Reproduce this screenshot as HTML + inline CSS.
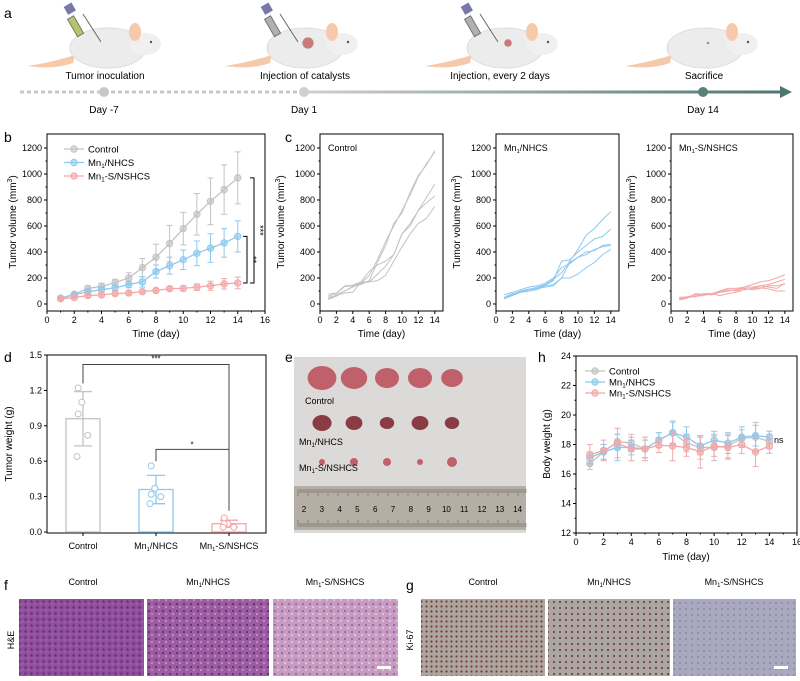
<!DOCTYPE html>
<html><head><meta charset="utf-8"><style>
body{margin:0;background:#fff;width:800px;height:676px;overflow:hidden;font-family:"Liberation Sans",sans-serif}
svg text{font-family:"Liberation Sans",sans-serif}
</style></head><body>
<svg id="fig" width="800" height="676" viewBox="0 0 800 676" xmlns="http://www.w3.org/2000/svg">
<defs>
<linearGradient id="tl" x1="0" x2="1"><stop offset="0" stop-color="#d0d0d0"/><stop offset="1" stop-color="#4d7770"/></linearGradient>
<pattern id="he1" width="6" height="6" patternUnits="userSpaceOnUse"><rect width="6" height="6" fill="#8f4f9d"/><circle cx="1.5" cy="1.5" r="1.1" fill="#5a2c78"/><circle cx="4.5" cy="4" r="0.9" fill="#b06aa8"/></pattern>
<pattern id="he2" width="7" height="7" patternUnits="userSpaceOnUse"><rect width="7" height="7" fill="#9c5ca2"/><circle cx="2" cy="2" r="1.1" fill="#5e3080"/><circle cx="5" cy="5" r="1.2" fill="#c08ab8"/></pattern>
<pattern id="he3" width="7" height="7" patternUnits="userSpaceOnUse"><rect width="7" height="7" fill="#c79ac2"/><circle cx="2" cy="2" r="0.9" fill="#7a4a92"/><circle cx="5" cy="5" r="1.2" fill="#ddc2d6"/></pattern>
<pattern id="ki1" width="5" height="5" patternUnits="userSpaceOnUse"><rect width="5" height="5" fill="#aba6a2"/><circle cx="1.5" cy="1.5" r="1.1" fill="#7a3a2a"/></pattern>
<pattern id="ki2" width="6" height="6" patternUnits="userSpaceOnUse"><rect width="6" height="6" fill="#aaa6a4"/><circle cx="2" cy="2" r="1.1" fill="#7e4434"/></pattern>
<pattern id="ki3" width="6" height="6" patternUnits="userSpaceOnUse"><rect width="6" height="6" fill="#a8a9c0"/><circle cx="2" cy="3" r="0.8" fill="#8c7080"/></pattern>
</defs>

<g>
<text x="4" y="18" font-size="14">a</text>
<g id="mice"></g>
<text x="105" y="79" font-size="10" text-anchor="middle">Tumor inoculation</text>
<text x="305" y="79" font-size="10" text-anchor="middle">Injection of catalysts</text>
<text x="500" y="79" font-size="10" text-anchor="middle">Injection, every 2 days</text>
<text x="704" y="79" font-size="10" text-anchor="middle">Sacrifice</text>
<line x1="20" y1="92" x2="303" y2="92" stroke="#c8c8c8" stroke-width="3" stroke-dasharray="4,3"/>
<rect x="303" y="90.5" width="480" height="3" fill="url(#tl)"/>
<polygon points="780,86 792,92 780,98" fill="#4d7770"/>
<circle cx="104" cy="92" r="5" fill="#c8c8c8"/>
<circle cx="304" cy="92" r="5" fill="#cfcfcf"/>
<circle cx="703" cy="92" r="5" fill="#5a807a"/>
<text x="104" y="113" font-size="10" text-anchor="middle">Day -7</text>
<text x="304" y="113" font-size="10" text-anchor="middle">Day 1</text>
<text x="703" y="113" font-size="10" text-anchor="middle">Day 14</text>
</g>

<text x="4" y="142" font-size="14">b</text>
<text x="285" y="142" font-size="14">c</text>
<text x="4" y="362" font-size="14">d</text>
<text x="285" y="362" font-size="14">e</text>
<text x="538" y="362" font-size="14">h</text>
<text x="4" y="590" font-size="14">f</text>
<text x="406" y="590" font-size="14">g</text>

<g id="pb"></g>
<g id="pc"></g>
<g id="pd"></g>
<g id="ph"></g>

<g>
<rect x="294" y="357" width="232" height="176" fill="#dcdad8"/>
<rect x="294" y="486" width="232" height="44" fill="#b5aea4"/>
<g id="tumors"></g>
<text x="305" y="404" font-size="9">Control</text>
<text x="299" y="445" font-size="9">Mn<tspan font-size="6" dy="2">1</tspan><tspan dy="-2">/NHCS</tspan></text>
<text x="299" y="471" font-size="9">Mn<tspan font-size="6" dy="2">1</tspan><tspan dy="-2">-S/NSHCS</tspan></text>
<g id="ruler"></g>
</g>

<g>
<text x="83" y="585" font-size="9" text-anchor="middle">Control</text>
<text x="208" y="585" font-size="9" text-anchor="middle">Mn<tspan font-size="6" dy="2">1</tspan><tspan dy="-2">/NHCS</tspan></text>
<text x="335" y="585" font-size="9" text-anchor="middle">Mn<tspan font-size="6" dy="2">1</tspan><tspan dy="-2">-S/NSHCS</tspan></text>
<text transform="translate(14,640) rotate(-90)" font-size="9" text-anchor="middle">H&amp;E</text>
<rect x="19" y="599" width="125" height="77" fill="url(#he1)"/>
<rect x="147" y="599" width="122" height="77" fill="url(#he2)"/>
<rect x="273" y="599" width="125" height="77" fill="url(#he3)"/>
<rect x="377" y="666" width="14" height="3" fill="#fff"/>
</g>
<g>
<text x="483" y="585" font-size="9" text-anchor="middle">Control</text>
<text x="609" y="585" font-size="9" text-anchor="middle">Mn<tspan font-size="6" dy="2">1</tspan><tspan dy="-2">/NHCS</tspan></text>
<text x="734" y="585" font-size="9" text-anchor="middle">Mn<tspan font-size="6" dy="2">1</tspan><tspan dy="-2">-S/NSHCS</tspan></text>
<text transform="translate(413,640) rotate(-90)" font-size="9" text-anchor="middle">Ki-67</text>
<rect x="421" y="599" width="124" height="77" fill="url(#ki1)"/>
<rect x="548" y="599" width="122" height="77" fill="url(#ki2)"/>
<rect x="673" y="599" width="123" height="77" fill="url(#ki3)"/>
<rect x="774" y="666" width="14" height="3" fill="#fff"/>
</g>
</svg>
<script>
const days = [1,2,3,4,5,6,7,8,9,10,11,12,13,14];
const volControl = [45,75,120,135,165,200,280,360,465,580,690,790,880,970];
const volControlErr = [5,10,20,25,25,40,70,100,140,125,160,180,190,200];
const volNHCS = [45,70,95,110,125,150,170,250,295,340,390,430,470,520];
const volNHCSErr = [5,10,15,20,20,25,40,50,65,75,95,110,110,120];
const volNSHCS = [40,50,65,70,80,85,95,105,118,120,130,140,155,162];
const volNSHCSErr = [10,10,15,15,15,15,15,15,15,20,25,35,40,45];
const indControl = [
 [35,60,100,135,150,180,320,450,620,700,860,990,1070,1180],
 [40,70,100,130,160,220,340,480,600,720,840,980,1080,1170],
 [75,85,140,145,170,250,300,330,380,540,600,720,820,920],
 [60,80,135,140,160,170,230,290,380,540,620,720,780,830],
 [50,65,85,90,170,170,180,220,330,440,540,620,660,750]];
const indNHCS = [
 [40,70,95,110,130,150,190,240,330,420,530,580,650,710],
 [45,75,100,115,120,145,180,330,340,400,450,500,520,575],
 [70,90,110,130,140,160,200,280,310,360,400,410,450,460],
 [50,80,90,100,110,140,150,200,320,360,380,420,440,450],
 [40,65,90,100,120,130,140,200,200,230,280,320,380,420]];
const indNSHCS = [
 [40,50,60,80,80,90,100,110,130,150,170,180,200,225],
 [50,55,70,75,80,100,120,120,130,130,140,150,170,190],
 [30,45,80,75,70,90,100,110,120,110,120,140,140,155],
 [45,50,60,65,80,65,80,90,110,120,125,115,100,100],
 [50,55,55,80,70,95,110,100,110,120,140,130,120,160]];
const groups = ["Control","Mn1/NHCS","Mn1-S/NSHCS"];
const weightMean = [0.96,0.36,0.07];
const weightErr = [0.23,0.12,0.03];
const weightPts = [[1.22,1.10,1.00,0.82,0.64],[0.56,0.37,0.32,0.30,0.24],[0.12,0.07,0.07,0.04,0.04]];
const bwControl = [16.7,17.5,18.2,18.1,17.7,18.3,18.8,18.1,17.8,17.8,17.9,18.4,18.5,18.2];
const bwNHCS = [17.1,17.5,17.8,17.8,17.7,18.3,18.8,18.5,17.9,18.3,18.1,18.5,18.6,18.5];
const bwNSHCS = [17.3,17.6,18.1,17.7,17.7,17.95,17.9,17.8,17.5,17.9,17.8,18.0,17.5,17.9];
const bwControlErr = [0.4,0.5,0.5,0.6,0.6,0.5,0.8,0.6,0.8,0.9,0.8,0.6,1.0,0.5];
const bwNHCSErr = [0.4,0.5,0.9,0.5,0.6,0.5,0.7,0.7,0.6,0.6,0.7,0.7,0.7,0.4];
const bwNSHCSErr = [0.7,0.7,1.0,0.8,0.8,0.5,1.0,0.6,1.1,0.7,0.8,0.6,1.0,0.5];
const volTicks = [0,200,400,600,800,1000,1200];
const dayTicksB = [0,2,4,6,8,10,12,14,16];
const dayTicksC = [0,2,4,6,8,10,12,14];
const wTicks = [0,0.3,0.6,0.9,1.2,1.5];
const bwTicks = [12,14,16,18,20,22,24];

const NS="http://www.w3.org/2000/svg";
const GRAY="#c3c3c3", BLUE="#8ec9ee", PINK="#f4a7a7";
function mk(parent,tag,attrs,text){const e=document.createElementNS(NS,tag);for(const k in attrs)e.setAttribute(k,attrs[k]);if(text!==undefined)e.textContent=text;parent.appendChild(e);return e;}
function scale(d0,d1,r0,r1){return v=>r0+(v-d0)/(d1-d0)*(r1-r0);}
function subLabel(parent,x,y,label,size,anchor){
  const t=mk(parent,'text',{x:x,y:y,'font-size':size,'text-anchor':anchor||'start'});
  const m=label.match(/^Mn1(.*)$/);
  if(m){t.appendChild(document.createTextNode('Mn'));mk(t,'tspan',{'font-size':size*0.65,dy:2},'1');mk(t,'tspan',{dy:-2},m[1]);}
  else t.textContent=label;
  return t;
}
function frame(g,x0,y0,x1,y1,xs,ys,xt,yt,xtf,ytf,minorX,minorY){
  mk(g,'rect',{x:x0,y:y0,width:x1-x0,height:y1-y0,fill:'none',stroke:'#000','stroke-width':1});
  xt.forEach(v=>{const x=xs(v);mk(g,'line',{x1:x,y1:y1,x2:x,y2:y1+3,stroke:'#000'});mk(g,'text',{x:x,y:y1+12,'font-size':9,'text-anchor':'middle'},xtf(v));});
  yt.forEach(v=>{const y=ys(v);mk(g,'line',{x1:x0,y1:y,x2:x0-3,y2:y,stroke:'#000'});mk(g,'text',{x:x0-5,y:y+3,'font-size':9,'text-anchor':'end'},ytf(v));});
  if(minorX)for(let i=0;i<xt.length-1;i++){const x=xs((xt[i]+xt[i+1])/2);mk(g,'line',{x1:x,y1:y1,x2:x,y2:y1+1.5,stroke:'#000'});}
  if(minorY)for(let i=0;i<yt.length-1;i++){const y=ys((yt[i]+yt[i+1])/2);mk(g,'line',{x1:x0,y1:y,x2:x0-1.5,y2:y,stroke:'#000'});}
}
function ylab(g,x,y,txt,sup){const t=mk(g,'text',{transform:`translate(${x},${y}) rotate(-90)`,'font-size':10,'text-anchor':'middle'},txt);if(sup){mk(t,'tspan',{'font-size':7,dy:-4},'3');mk(t,'tspan',{dy:4},')');}return t;}
function series(g,xs,ys,vals,errs,color,name){
  const sg=mk(g,'g',{});
  
  
  days.forEach((d,i)=>{const x=xs(d);mk(sg,'line',{x1:x,y1:ys(vals[i]-errs[i]),x2:x,y2:ys(vals[i]+errs[i]),stroke:color,'stroke-width':1});
    mk(sg,'line',{x1:x-3,y1:ys(vals[i]+errs[i]),x2:x+3,y2:ys(vals[i]+errs[i]),stroke:color});
    mk(sg,'line',{x1:x-3,y1:ys(vals[i]-errs[i]),x2:x+3,y2:ys(vals[i]-errs[i]),stroke:color});});
  mk(sg,'polyline',{points:days.map((d,i)=>xs(d)+','+ys(vals[i])).join(' '),fill:'none',stroke:color,'stroke-width':1.3});
  days.forEach((d,i)=>{mk(sg,'circle',{cx:xs(d),cy:ys(vals[i]),r:3.2,fill:color,stroke:color,'fill-opacity':0.6});});
}
function legend(g,x,y,step){
  [[groups[0],GRAY],[groups[1],BLUE],[groups[2],PINK]].forEach((e,i)=>{
    const lg=mk(g,'g',{});
    
    
    const yy=y+i*step;
    mk(lg,'line',{x1:x,y1:yy,x2:x+20,y2:yy,stroke:e[1],'stroke-width':1.3});
    mk(lg,'circle',{cx:x+10,cy:yy,r:3.2,fill:e[1],'fill-opacity':0.6,stroke:e[1]});
    subLabel(lg,x+24,yy+3.5,e[0],9.5);
  });
}
(function(){
  const g=document.getElementById('pb');
  const xs=scale(0,16,47,265), ys=scale(0,1200,304,148);
  frame(g,47,134,265,311,xs,ys,dayTicksB,volTicks,v=>v,v=>v,true,true);
  ylab(g,16,222,'Tumor volume (mm',true);
  mk(g,'text',{x:156,y:337,'font-size':10,'text-anchor':'middle'},'Time (day)');
  series(g,xs,ys,volControl,volControlErr,GRAY,'series-control');
  series(g,xs,ys,volNHCS,volNHCSErr,BLUE,'series-mn1-nhcs');
  series(g,xs,ys,volNSHCS,volNSHCSErr,PINK,'series-mn1-s-nshcs');
  legend(g,64,149,13.5);
  mk(g,'polyline',{points:`250,${ys(volControl[13])} 254,${ys(volControl[13])} 254,${ys(volNSHCS[13])} 250,${ys(volNSHCS[13])}`,fill:'none',stroke:'#000'});
  mk(g,'text',{transform:`translate(257,${(ys(volControl[13])+ys(volNSHCS[13]))/2}) rotate(90)`,'font-size':9,'text-anchor':'middle'},'***');
  mk(g,'polyline',{points:`243,${ys(volNHCS[13])} 247,${ys(volNHCS[13])} 247,${ys(volNSHCS[13])} 243,${ys(volNSHCS[13])}`,fill:'none',stroke:'#000'});
  mk(g,'text',{transform:`translate(250,${(ys(volNHCS[13])+ys(volNSHCS[13]))/2}) rotate(90)`,'font-size':9,'text-anchor':'middle'},'**');
})();
(function(){
  const g=document.getElementById('pc');
  const sets=[[indControl,GRAY,'Control',320,443],[indNHCS,BLUE,'Mn1/NHCS',496,619],[indNSHCS,PINK,'Mn1-S/NSHCS',671,793]];
  sets.forEach((s,k)=>{
    const sg=mk(g,'g',{});
    
    
    const xs=scale(0,15,s[3],s[4]), ys=scale(0,1200,304,148);
    frame(sg,s[3],134,s[4],311,xs,ys,dayTicksC,volTicks,v=>v,v=>v,false,true);
    ylab(sg,s[3]-36,222,'Tumor volume (mm',true);
    mk(sg,'text',{x:(s[3]+s[4])/2,y:337,'font-size':10,'text-anchor':'middle'},'Time (day)');
    subLabel(sg,s[3]+8,151,s[2],9);
    s[0].forEach((arr)=>{const p=mk(sg,'polyline',{points:days.map((d,i)=>xs(d)+','+ys(arr[i])).join(' '),fill:'none',stroke:s[1],'stroke-width':1});
      
      });
  });
})();
(function(){
  const g=document.getElementById('pd');
  const ys=scale(0,1.5,532,355); const cx=[83,156,229]; const cols=[GRAY,BLUE,PINK];
  mk(g,'rect',{x:47,y:355,width:219,height:178,fill:'none',stroke:'#000'});
  wTicks.forEach(v=>{const y=ys(v);mk(g,'line',{x1:47,y1:y,x2:44,y2:y,stroke:'#000'});mk(g,'text',{x:42,y:y+3,'font-size':9,'text-anchor':'end'},v.toFixed(1));});
  ylab(g,12,444,'Tumor weight (g)');
  groups.forEach((n,i)=>{
    const bg=mk(g,'g',{});
    
    
    mk(bg,'rect',{x:cx[i]-17,y:ys(weightMean[i]),width:34,height:ys(0)-ys(weightMean[i]),fill:'none',stroke:cols[i],'stroke-width':1.3});
    const t=ys(weightMean[i]+weightErr[i]),b=ys(weightMean[i]-weightErr[i]);
    mk(bg,'line',{x1:cx[i],y1:t,x2:cx[i],y2:b,stroke:cols[i],'stroke-width':1.3});
    mk(bg,'line',{x1:cx[i]-9,y1:t,x2:cx[i]+9,y2:t,stroke:cols[i],'stroke-width':1.3});
    mk(bg,'line',{x1:cx[i]-9,y1:b,x2:cx[i]+9,y2:b,stroke:cols[i],'stroke-width':1.3});
    const off=[-4,-1,-4,4,-5];
    weightPts[i].forEach((v,j)=>mk(bg,'circle',{cx:cx[i]+off[j]*1.2,cy:ys(v),r:3,fill:'#fff',stroke:cols[i]}));
    mk(g,'line',{x1:cx[i],y1:533,x2:cx[i],y2:536,stroke:'#000'});
    subLabel(g,cx[i],549,n,9,'middle');
  });
  mk(g,'polyline',{points:`${cx[0]},${ys(1.26)} ${cx[0]},${ys(1.42)} ${cx[2]},${ys(1.42)} ${cx[2]},${ys(0.18)}`,fill:'none',stroke:'#444','stroke-width':1});
  mk(g,'text',{x:156,y:ys(1.42)-3,'font-size':8,'text-anchor':'middle'},'***');
  mk(g,'polyline',{points:`${cx[1]},${ys(0.6)} ${cx[1]},${ys(0.7)} ${cx[2]},${ys(0.7)}`,fill:'none',stroke:'#444','stroke-width':1});
  mk(g,'text',{x:192,y:ys(0.7)-2,'font-size':8,'text-anchor':'middle'},'*');
})();
(function(){
  const g=document.getElementById('ph');
  const xs=scale(0,16,576,797), ys=scale(12,24,533,356);
  frame(g,576,356,797,533,xs,ys,dayTicksB,bwTicks,v=>v,v=>v,true,true);
  ylab(g,550,444,'Body weight (g)');
  mk(g,'text',{x:686,y:560,'font-size':10,'text-anchor':'middle'},'Time (day)');
  series(g,xs,ys,bwControl,bwControlErr,GRAY,'series-control');
  series(g,xs,ys,bwNHCS,bwNHCSErr,BLUE,'series-mn1-nhcs');
  series(g,xs,ys,bwNSHCS,bwNSHCSErr,PINK,'series-mn1-s-nshcs');
  legend(g,585,371,11);
  mk(g,'text',{x:774,y:ys(18.3)+3,'font-size':9},'ns');
})();
(function(){
  const m=document.getElementById('mice');
  [[113,0,'#b5c46a'],[310,9,'#b0b0b0'],[510,6,'#b0b0b0'],[710,2,null]].forEach((p)=>{
    const x=p[0];
    const mg=mk(m,'g',{});
    
    
    mk(mg,'path',{d:`M${x-40},63 Q${x-60},70 ${x-85},66 Q${x-60},62 ${x-38},55 Z`,fill:'#f6c9ab'});
    mk(mg,'ellipse',{cx:x-5,cy:48,rx:38,ry:20,fill:'#ececec',stroke:'#dedede'});
    mk(mg,'ellipse',{cx:x+32,cy:44,rx:16,ry:11,fill:'#f0f0f0'});
    mk(mg,'ellipse',{cx:x+22,cy:32,rx:6,ry:9,fill:'#f6c9ab'});
    mk(mg,'circle',{cx:x+38,cy:42,r:1.2,fill:'#555'});
    if(p[1])mk(mg,'circle',{cx:x-2,cy:43,r:p[1]/1.6,fill:'#c77c78'});
    if(p[2]){mk(mg,'line',{x1:x-30,y1:14,x2:x-12,y2:42,stroke:'#666','stroke-width':1});
      mk(mg,'rect',{x:x-41,y:16,width:7,height:20,fill:p[2],stroke:'#777',transform:`rotate(-30 ${x-37} 26)`});
      mk(mg,'rect',{x:x-48,y:4,width:9,height:9,fill:'#7a78a8',transform:`rotate(-30 ${x-43} 8)`});}
  });
  const t=document.getElementById('tumors');
  const xs=[313,345,378,411,443];
  const r1=[12,11,10,10,9],r2=[8,7,6,7,6],r3=[3,4,4,3,5];
  xs.forEach((x,i)=>{
    mk(t,'ellipse',{cx:x+9,cy:378,rx:r1[i]*1.2,ry:r1[i],fill:'#c0606a'});
    mk(t,'ellipse',{cx:x+9,cy:423,rx:r2[i]*1.2,ry:r2[i],fill:'#8a3c44'});
    mk(t,'ellipse',{cx:x+9,cy:462,rx:r3[i],ry:r3[i],fill:'#c06068'});
  });
  const r=document.getElementById('ruler');
  for(let i=0;i<115;i++){const x=298+i*2;mk(r,'line',{x1:x,y1:489,x2:x,y2:(i%5?493:496),stroke:'#555','stroke-width':0.5});mk(r,'line',{x1:x,y1:527,x2:x,y2:(i%5?523:520),stroke:'#555','stroke-width':0.5});}
  for(let n=2;n<=14;n++)mk(r,'text',{x:304+(n-2)*17.8,y:512,'font-size':8,'font-family':'Liberation Serif','text-anchor':'middle'},n);
})();
</script>
</body></html>
